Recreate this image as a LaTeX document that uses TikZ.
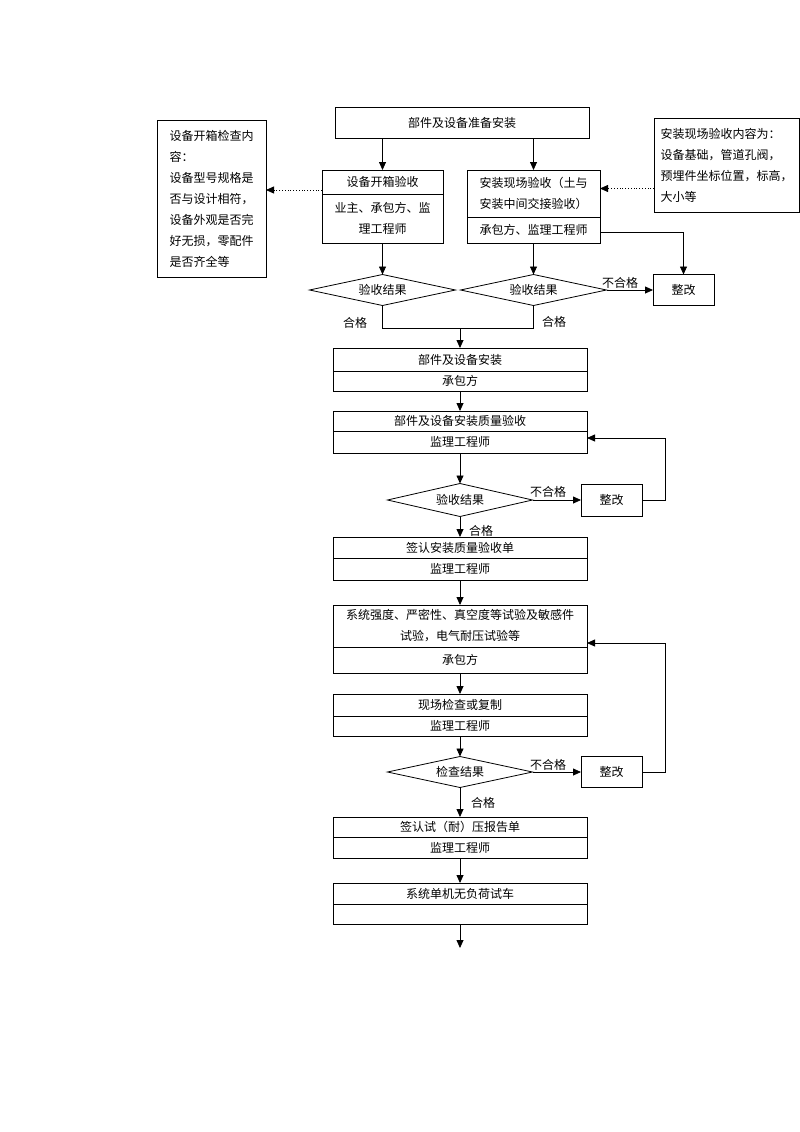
\documentclass[tikz,border=0pt]{standalone}
\usepackage{fontspec}
\setmainfont{Noto Sans CJK SC}
\usetikzlibrary{arrows.meta, shapes.geometric}

\begin{document}
\begin{tikzpicture}[x=1pt, y=-1pt, line width=0.8pt,
        >={Triangle[length=8pt,width=7pt]},
        font=\fontsize{12}{21}\selectfont,
        box/.style={draw, rectangle, minimum width=254pt, inner sep=0pt, outer sep=0pt, align=center},
        part/.style={box, anchor=north},
        choice/.style={draw, diamond, aspect=4.7, inner sep=0pt, outer sep=0pt, minimum width=145pt, minimum height=31pt},
        note/.style={draw, rectangle, anchor=north west, inner sep=0pt, outer sep=0pt, align=left},
        fix/.style={draw, rectangle, outer sep=0pt, minimum width=61pt, minimum height=31pt}]
        \useasboundingbox (0,0) rectangle (800,1132);

        \node[box, minimum height=31pt] (start) at (462,122.5) {部件及设备准备安装};
        \node[part, minimum width=121pt, minimum height=24pt] (kx) at (382.5,170) {设备开箱验收};
        \node[part, minimum width=121pt, minimum height=49pt] (kxw) at (kx.south) {业主、承包方、监\\理工程师};
        \node[part, minimum width=133pt, minimum height=47pt] (xc) at (533.5,170) {安装现场验收（土与\\安装中间交接验收）};
        \node[part, minimum width=133pt, minimum height=26pt] (xcw) at (xc.south) {承包方、监理工程师};
        \node[note, minimum width=109pt, minimum height=157pt] (kxnote) at (157,120)
            {设备开箱检查内\\容：\\设备型号规格是\\否与设计相符，\\设备外观是否完\\好无损，零配件\\是否齐全等};
        \node[note, minimum width=145pt, minimum height=94pt] (xcnote) at (654,118)
            {安装现场验收内容为：\\设备基础，管道孔阀，\\预埋件坐标位置，标高，\\大小等};
        \node[choice, minimum width=146pt] (d1) at (382.5,290) {验收结果};
        \node[choice, minimum width=146pt] (d2) at (533.5,290) {验收结果};
        \node[fix] (zg1) at (683.5,290) {整改};
        \coordinate (m) at (460,328);

        \node[part, minimum height=23pt] (b3) at (460,348) {部件及设备安装};
        \node[part, minimum height=20pt] (b3s) at (b3.south) {承包方};
        \node[part, minimum height=20pt] (b4) at (460,411) {部件及设备安装质量验收};
        \node[part, minimum height=22pt] (b4s) at (b4.south) {监理工程师};
        \node[choice, minimum height=33pt] (d3) at (460,500) {验收结果};
        \node[fix, minimum height=32pt] (zg2) at (611.5,500) {整改};
        \node[part, minimum height=21pt] (b5) at (460,537) {签认安装质量验收单};
        \node[part, minimum height=22pt] (b5s) at (b5.south) {监理工程师};
        \node[part, minimum height=42pt] (b6) at (460,605) {系统强度、严密性、真空度等试验及敏感件\\试验，电气耐压试验等};
        \node[part, minimum height=26pt] (b6s) at (b6.south) {承包方};
        \node[part, minimum height=22pt] (b7) at (460,694) {现场检查或复制};
        \node[part, minimum height=20pt] (b7s) at (b7.south) {监理工程师};
        \node[choice] (d4) at (460,772) {检查结果};
        \node[fix] (zg3) at (611.5,772) {整改};
        \node[part, minimum height=20pt] (b8) at (460,817) {签认试（耐）压报告单};
        \node[part, minimum height=21pt] (b8s) at (b8.south) {监理工程师};
        \node[part, minimum height=21pt] (b9) at (460,883) {系统单机无负荷试车};
        \node[part, minimum height=20pt] (b9s) at (b9.south) {};
        \coordinate (end) at (460,948);

        \node (hg1) at (355,323) {合格};
        \node (hg2) at (554,322) {合格};
        \node (bhg1) at (620,283) {不合格};
        \node (bhg2) at (548,492) {不合格};
        \node (hg3) at (481,531) {合格};
        \node (bhg3) at (548,765) {不合格};
        \node (hg4) at (483,803) {合格};

        \draw[->] (start.south -| kx.north) -- (kx.north);
        \draw[->] (start.south -| xc.north) -- (xc.north);
        \draw[dotted, ->] ([yshift=4pt]kx.south west) -- ([yshift=4pt]kx.south west -| kxnote.east);
        \draw[dotted, ->] ([yshift=5pt]xc.east -| xcnote.west) -- ([yshift=5pt]xc.east);
        \draw[->] (kxw) -- (d1);
        \draw[->] (xcw) -- (d2);
        \draw[->] (d2) -- (zg1);
        \draw[->] ([yshift=-2pt]xcw.east) -| (zg1);
        \draw (d1.south) |- (d2.south |- m) -- (d2.south);
        \draw[->] (m) -- (b3);
        \draw[->] (b3s) -- (b4);
        \draw[->] (b4s) -- (d3);
        \draw[->] (d3) -- (zg2);
        \draw[->] (zg2.east) -- ++(23,0) |- ([yshift=4pt]b4s.east);
        \draw[->] (d3) -- (b5);
        \draw[->] (b5s) -- (b6);
        \draw[->] (b6s) -- (b7);
        \draw[->] (b7s) -- (d4);
        \draw[->] (d4) -- (zg3);
        \draw[->] (zg3.east) -- ++(23,0) |- ([yshift=4pt]b6.south east);
        \draw[->] (d4) -- (b8);
        \draw[->] (b8s) -- (b9);
        \draw[->] (b9s) -- (end);
    \end{tikzpicture}
\end{document}
